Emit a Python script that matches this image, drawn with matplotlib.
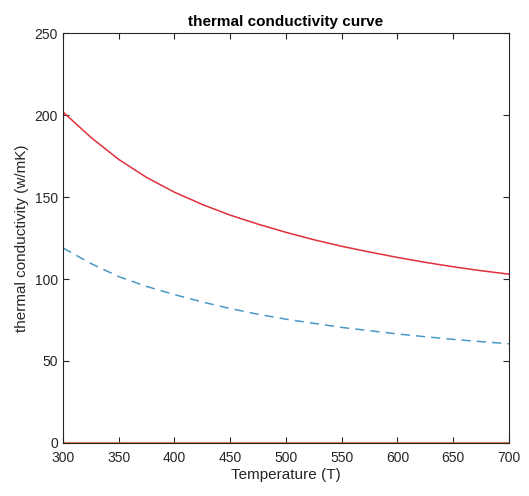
import numpy as np
import matplotlib.pyplot as plt

plt.rcParams['font.family'] = ['Liberation Sans', 'DejaVu Sans']

temp = [300, 325, 350, 375, 400, 425, 450, 475, 500,
        525, 550, 575, 600, 625, 650, 675, 700]
k_upper = [202, 186.5, 173, 162, 153, 145.5, 139, 133.5, 128.5,
           124, 120, 116.5, 113.2, 110.2, 107.5, 105.1, 103]
k_lower = [119, 109.5, 101.5, 95.5, 90.5, 86, 82, 78.5, 75.5,
           73, 70.5, 68.5, 66.5, 64.8, 63.2, 61.8, 60.5]
k_zero = [0] * len(temp)

fig = plt.figure(figsize=(5.29, 4.96), dpi=100)
ax = fig.add_axes([0.119, 0.107, 0.843, 0.826])

ax.plot(temp, k_upper, color='#E0303A', lw=1.1)
ax.plot(temp, k_lower, color='#4A98C8', lw=1.1, ls=(0, (6, 4)))
ax.plot(temp, k_zero, color='#D95319', lw=1.1)

ax.set_xlim(300, 700)
ax.set_ylim(0, 250)
ax.set_xticks(np.arange(300, 701, 50))
ax.set_yticks(np.arange(0, 251, 50))

ax.tick_params(direction='in', top=True, right=True, length=4, width=0.8,
               labelsize=10, colors='#262626')
ax.tick_params(axis='x', pad=6)
for s in ax.spines.values():
    s.set_color('#262626')
    s.set_linewidth(0.8)

ax.set_title('thermal conductivity curve', fontsize=11, fontweight='bold', pad=5)
ax.set_xlabel('Temperature (T)', fontsize=11, color='#262626', labelpad=2)
ax.set_ylabel('thermal conductivity (w/mK)', fontsize=11, color='#262626', labelpad=4)

fig.savefig('out.png', dpi=100)
